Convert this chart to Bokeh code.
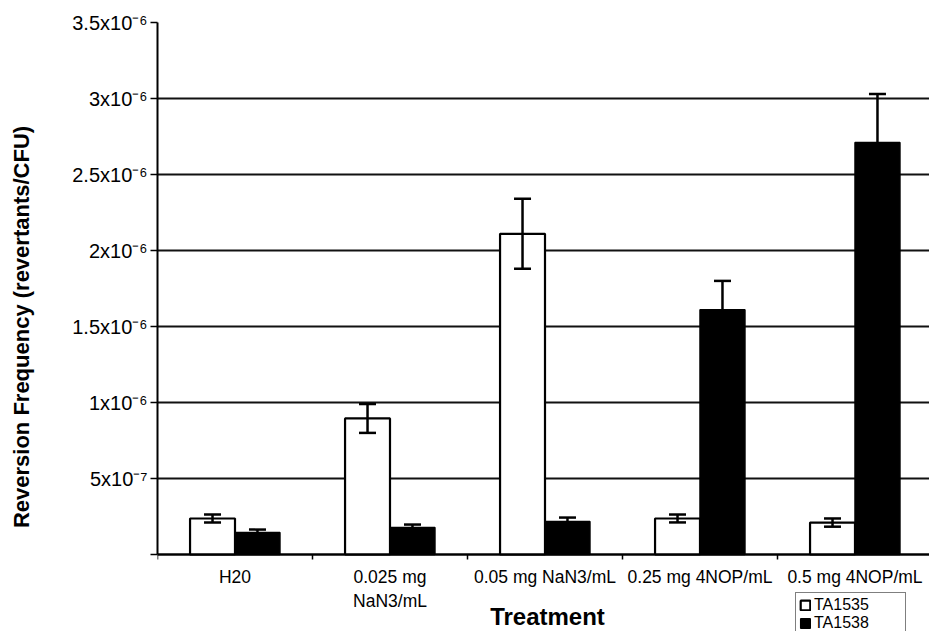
from bokeh.plotting import figure
from bokeh.models import (FixedTicker, CustomJSTickFormatter, Whisker, ColumnDataSource,
                          Label, TeeHead, Range1d)
from bokeh.embed import file_html
from bokeh.resources import INLINE

# ---- data ----
treatments = ["H20", "0.025 mg\nNaN3/mL", "0.05 mg NaN3/mL", "0.25 mg 4NOP/mL", "0.5 mg 4NOP/mL"]
ta1535 = [2.37e-7, 8.95e-7, 2.11e-6, 2.37e-7, 2.10e-7]
ta1535_err = [0.26e-7, 0.95e-7, 0.23e-6, 0.26e-7, 0.27e-7]
ta1538 = [1.45e-7, 1.78e-7, 2.17e-7, 1.61e-6, 2.71e-6]
ta1538_err = [0.19e-7, 0.19e-7, 0.26e-7, 0.19e-6, 0.32e-6]
y_ticks = [0, 5e-7, 1e-6, 1.5e-6, 2e-6, 2.5e-6, 3e-6, 3.5e-6]
y_tick_labels = ["", "5x10\u207b\u2077", "1x10\u207b\u2076", "1.5x10\u207b\u2076", "2x10\u207b\u2076",
                 "2.5x10\u207b\u2076", "3x10\u207b\u2076", "3.5x10\u207b\u2076"]
series_names = ["TA1535", "TA1538"]
y_max = 3.5e-6

# ---- layout (pixels) ----
W, H = 929, 631
LEFT, TOP = 157, 22
axis_px = 532          # pixel height from 0 to y_max
below_px = H - TOP - axis_px
frame_w = W - LEFT
cat_px = 155.0
n = len(treatments)
centers = [i + 0.5 for i in range(n)]
bounds = [float(i) for i in range(n + 1)]
off = 0.145
bw = 0.29
y_start = -y_max * below_px / axis_px

p = figure(width=W, height=H, output_backend="svg", toolbar_location=None,
           x_range=Range1d(0, frame_w / cat_px), y_range=Range1d(y_start, y_max),
           min_border_left=LEFT, min_border_right=0, min_border_top=TOP, min_border_bottom=0)
p.outline_line_color = None
p.background_fill_color = "white"
p.border_fill_color = "white"

src = ColumnDataSource(dict(
    xw=[c - off for c in centers], xb=[c + off for c in centers],
    a=ta1535, b=ta1538,
    a_lo=[v - e for v, e in zip(ta1535, ta1535_err)], a_hi=[v + e for v, e in zip(ta1535, ta1535_err)],
    b_lo=[v - e for v, e in zip(ta1538, ta1538_err)], b_hi=[v + e for v, e in zip(ta1538, ta1538_err)],
))

# grid
p.xgrid.visible = False
p.ygrid.ticker = FixedTicker(ticks=y_ticks, minor_ticks=[])
p.ygrid.grid_line_color = "#111111"
p.ygrid.grid_line_width = 2

r1 = p.vbar(x="xw", top="a", bottom=0, width=bw, source=src, fill_color="white", line_color="black",
            line_width=2.2, legend_label=series_names[0])
r2 = p.vbar(x="xb", top="b", bottom=0, width=bw, source=src, fill_color="black", line_color="black",
            line_width=1.5, legend_label=series_names[1])

for base, lo, hi in (("xw", "a_lo", "a_hi"), ("xb", "b_lo", "b_hi")):
    w = Whisker(base=base, lower=lo, upper=hi, source=src, dimension="height",
                line_color="black", line_width=2.5, level="overlay",
                upper_head=TeeHead(size=17, line_color="black", line_width=2.5),
                lower_head=TeeHead(size=17, line_color="black", line_width=2.5))
    p.add_layout(w)

# y axis
p.yaxis.ticker = FixedTicker(ticks=y_ticks, minor_ticks=[])
p.yaxis.bounds = (0, y_max)
p.yaxis.formatter = CustomJSTickFormatter(args=dict(tvals=y_ticks, tlabels=y_tick_labels), code="""
let best = 0;
for (let i = 0; i < tvals.length; i++) {
  if (Math.abs(tvals[i] - tick) < Math.abs(tvals[best] - tick)) best = i;
}
return tlabels[best];
""")
p.yaxis.major_tick_out = 7
p.yaxis.major_tick_in = 0
p.yaxis.major_tick_line_width = 1.5
p.yaxis.axis_line_width = 2
p.yaxis.axis_line_color = "black"
p.yaxis.major_label_standoff = 3
p.yaxis.major_label_text_font = "Liberation Sans"
p.yaxis.major_label_text_font_size = "20px"
p.yaxis.major_label_text_color = "black"
p.yaxis.axis_label = "Reversion Frequency (revertants/CFU)"
p.yaxis.axis_label_text_font = "Liberation Sans"
p.yaxis.axis_label_text_font_style = "bold"
p.yaxis.axis_label_text_font_size = "22px"
p.yaxis.axis_label_text_color = "black"
p.yaxis.axis_label_standoff = 35

# x axis (drawn at y = 0)
p.xaxis.fixed_location = 0
p.xaxis.ticker = FixedTicker(ticks=centers, minor_ticks=bounds)
p.xaxis.formatter = CustomJSTickFormatter(args=dict(cats=treatments), code="""
return cats[Math.round(tick - 0.5)];
""")
p.xaxis.major_tick_out = 0
p.xaxis.major_tick_in = 0
p.xaxis.minor_tick_out = 5
p.xaxis.minor_tick_in = 0
p.xaxis.minor_tick_line_width = 1.5
p.xaxis.minor_tick_line_color = "black"
p.xaxis.axis_line_width = 2
p.xaxis.axis_line_color = "black"
p.xaxis.major_label_standoff = 7
p.xaxis.major_label_text_font = "Liberation Sans"
p.xaxis.major_label_text_font_size = "17.5px"
p.xaxis.major_label_text_color = "black"

# x axis title
p.add_layout(Label(x=frame_w / 2 + 4, y=15, x_units="screen", y_units="screen",
                   text="Treatment", text_font="Liberation Sans", text_font_style="bold",
                   text_font_size="24px", text_align="center", text_baseline="alphabetic",
                   text_color="black"))

# legend
lg = p.legend[0]
lg.location = (638, -5)
lg.border_line_color = "black"
lg.border_line_width = 1
lg.background_fill_color = "white"
lg.background_fill_alpha = 1
lg.label_text_font = "Liberation Sans"
lg.label_text_font_size = "16px"
lg.label_text_line_height = 1.0
lg.label_text_color = "black"
lg.glyph_width = 12
lg.glyph_height = 12
lg.label_height = 14
lg.label_width = 88
lg.label_standoff = 3
lg.spacing = 0
lg.padding = 3
lg.margin = 0
lg.orientation = "vertical"

open("out.html", "w").write(file_html(p, INLINE))
